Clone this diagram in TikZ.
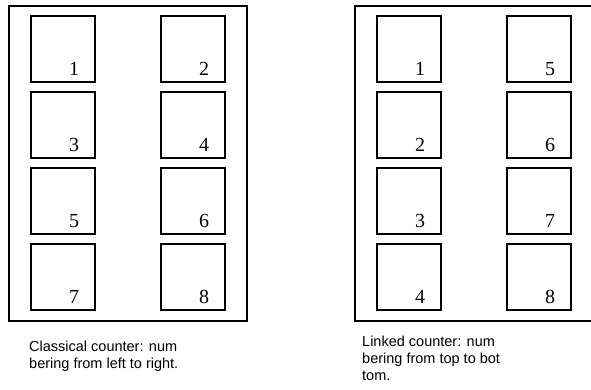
\documentclass[tikz,border=0pt]{standalone}
\usepackage{fontspec}
\setmainfont{Liberation Serif}
\setsansfont{Liberation Sans}
\usetikzlibrary{positioning}
\tikzset{
  frame/.style={draw,line width=1.6pt},
  cell/.style={draw,line width=1.6pt,minimum width=64pt,minimum height=66pt,inner sep=0pt,outer sep=0pt},
  num/.style={font=\fontsize{20}{20}\selectfont,anchor=base,inner sep=0pt},
  caption/.style={font=\sffamily\fontsize{14.5}{17}\selectfont,align=left,anchor=north west,inner sep=0pt}
}
\begin{document}
\begin{tikzpicture}[x=1pt,y=-1pt]
  \useasboundingbox (0,0) rectangle (591,389);
  \clip (0,0) rectangle (591,389);
  % outer frames (the right one runs off the page)
  \draw[frame] (9,6) rectangle (247,321);
  \draw[frame] (355,6) rectangle (620,321);
  % cells: classical counter left, linked counter right
  \foreach \r in {0,...,3} \foreach \c in {0,1} {
    \pgfmathtruncatemacro\a{2*\r+\c+1}
    \pgfmathtruncatemacro\b{4*\c+\r+1}
    \node[cell] (cl\a) at (63+130*\c,49+76*\r) {};
    \node[num] (ncl\a) at ([xshift=-21pt,yshift=7pt]cl\a.south east) {\a};
    \node[cell] (lk\b) at (409+130*\c,49+76*\r) {};
    \node[num] (nlk\b) at ([xshift=-21pt,yshift=7pt]lk\b.south east) {\b};
  }
  % captions
  \node[caption] (capcl) at (29,341) {Classical counter: num\\bering from left to right.};
  \node[caption] (caplk) at (362,336) {Linked counter: num\\bering from top to bot\\tom.};
\end{tikzpicture}
\end{document}
